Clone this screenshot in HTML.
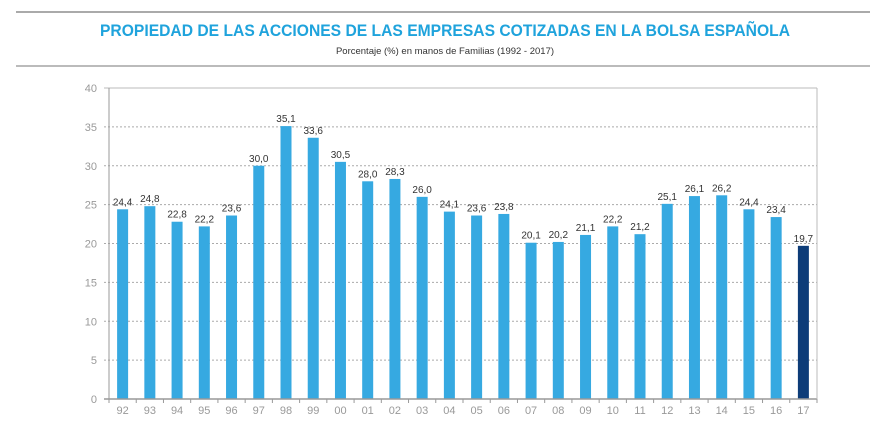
<!DOCTYPE html>
<html><head><meta charset="utf-8"><style>
body{margin:0;width:870px;height:430px;background:#fff;overflow:hidden;font-family:"Liberation Sans",sans-serif}
</style></head><body>
<svg width="870" height="430">
<line x1="16" y1="12" x2="870" y2="12" stroke="#aaa" stroke-width="2"/>
<line x1="16" y1="66" x2="870" y2="66" stroke="#bbb" stroke-width="2"/>
<text x="445" y="36" text-anchor="middle" font-size="17" font-weight="bold" fill="#1fa3dc" textLength="690" lengthAdjust="spacingAndGlyphs">PROPIEDAD DE LAS ACCIONES DE  LAS EMPRESAS COTIZADAS EN LA BOLSA ESPAÑOLA</text>
<text x="445" y="54" text-anchor="middle" font-size="9.5" fill="#333">Porcentaje (%) en manos de Familias (1992 - 2017)</text>
<g id="grid"></g><g id="bars"></g><g id="axes"></g>
</svg>
<script>
const categories=["92","93","94","95","96","97","98","99","00","01","02","03","04","05","06","07","08","09","10","11","12","13","14","15","16","17"];
const values=[24.4,24.8,22.8,22.2,23.6,30.0,35.1,33.6,30.5,28.0,28.3,26.0,24.1,23.6,23.8,20.1,20.2,21.1,22.2,21.2,25.1,26.1,26.2,24.4,23.4,19.7];
const yTicks=[0,5,10,15,20,25,30,35,40];
const NS="http://www.w3.org/2000/svg";
const L=109,R=817,T=88,B=399,ymax=40;
const bw=(R-L)/categories.length;
const y=v=>B-(B-T)*v/ymax;
const x=i=>L+bw*i+bw/2;
function mk(tag,attrs,parent,txt){const e=document.createElementNS(NS,tag);for(const k in attrs)e.setAttribute(k,attrs[k]);if(txt!==undefined)e.textContent=txt;document.getElementById(parent).appendChild(e);return e;}
yTicks.forEach(t=>{
  const g=mk('line',{x1:L-5,x2:R,y1:y(t),y2:y(t),stroke:t===40?'#bbb':'#aaa','stroke-dasharray':t===40||t===0?'none':'2,2','stroke-width':1},'grid');
  
  
  const l=mk('text',{x:L-12,y:y(t)+4,'text-anchor':'end','font-size':11,fill:'#999'},'axes',String(t));
  
  
});
categories.forEach((c,i)=>{
  const v=values[i];
  const r=mk('rect',{x:x(i)-5.5,y:y(v),width:11,height:B-y(v),fill:i===categories.length-1?'#0d3c78':'#36a9e1'},'bars');
  
  
  const t=mk('text',{x:x(i),y:y(v)-4,'text-anchor':'middle','font-size':10,fill:'#333'},'bars',v.toFixed(1).replace('.',','));
  
  
  const xl=mk('text',{x:x(i),y:B+15,'text-anchor':'middle','font-size':11,fill:'#999'},'axes',c);
  
  
  const tk=mk('line',{x1:L+bw*(i+1),x2:L+bw*(i+1),y1:B,y2:B+4,stroke:'#999'},'axes');
  
  
});
const ya=mk('line',{x1:L,x2:L,y1:T,y2:B+4,stroke:'#999'},'axes');


const xa=mk('line',{x1:L-5,x2:R,y1:B,y2:B,stroke:'#999','stroke-width':1.5},'axes');


const rb=mk('line',{x1:R,x2:R,y1:T,y2:B,stroke:'#bbb'},'axes');


</script>
</body></html>
